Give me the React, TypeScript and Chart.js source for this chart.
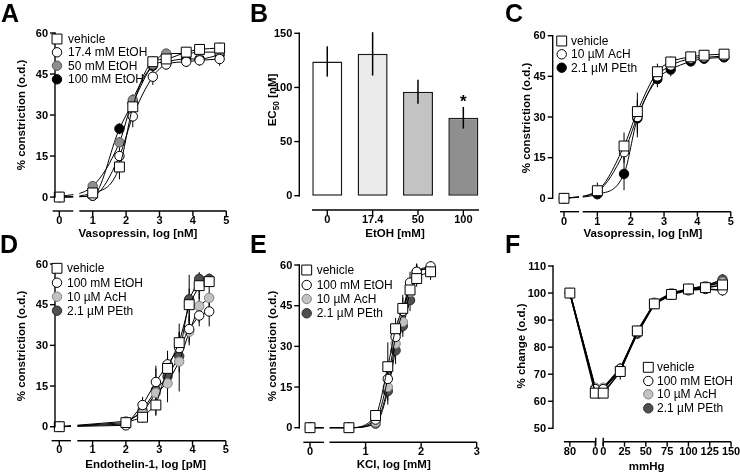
import React, { useEffect, useRef } from 'react';
import { Chart, registerables } from 'chart.js';

Chart.register(...registerables);

const W = 740;
const H = 474;
const FONT = '"Liberation Sans", Arial, Helvetica, sans-serif';
const TICK_SIZE = 11;
const TITLE_SIZE = 11.5;
const LEGEND_SIZE = 12;

/* ===================== DATA ===================== */
// Panel A – vasopressin, EtOH
const aLogDose = [0, 1, 1.8, 2.2, 2.8, 3.2, 3.8, 4.2, 4.8];
const aVehicle = [0, 1.5, 11, 33, 49.5, 50.5, 53, 54, 54.5];
const aVehicleErr = [0, 1.5, 4.5, 3, 2, 2, 1.5, 1.5, 2];
const aEtoh17 = [0, 0.5, 15, 29.5, 44, 48.5, 49.5, 50, 50.5];
const aEtoh17Err = [0, 1, 3, 4, 3, 2, 2, 2, 2.5];
const aEtoh50 = [0, 4, 20, 35.5, 48.5, 52.5, 52.5, 53, 53];
const aEtoh50Err = [0, 1.5, 2, 2, 2, 1.5, 1.5, 1.5, 1.5];
const aEtoh100 = [0, 0.5, 25, 34.5, 48, 49.5, 50.5, 50.5, 52];
const aEtoh100Err = [0, 1, 2, 3, 2, 2, 2, 2, 2];
const aXTicks = [0, 1, 2, 3, 4, 5];
const aYTicks = [0, 15, 30, 45, 60];

// Panel B – EC50
const bCategories = ['0', '17.4', '50', '100'];
const bEc50 = [124, 131, 96, 72];
const bEc50Err = [14, 20, 11, 10];
const bSignificant = [false, false, false, true];
const bYTicks = [0, 50, 100, 150];

// Panel C – vasopressin, AcH / PEth
const cLogDose = [0, 1, 1.8, 2.2, 2.8, 3.2, 3.8, 4.2, 4.8];
const cVehicle = [0, 2.8, 19.3, 32, 46.7, 50.3, 52.2, 52.8, 53.2];
const cVehicleErr = [0, 3, 5, 7, 3, 2, 1.5, 1.5, 1.5];
const cAch = [0, 2.5, 17, 30, 45, 49, 51.5, 52, 52.5];
const cAchErr = [0, 2, 4, 6, 3, 2, 1.5, 1.5, 1.5];
const cPeth = [0, 1.5, 9, 29.5, 44, 47.5, 50.5, 51.5, 52];
const cPethErr = [0, 1.5, 6, 7, 3, 2.5, 1.5, 1.5, 1.5];
const cXTicks = [0, 1, 2, 3, 4, 5];
const cYTicks = [0, 15, 30, 45, 60];

// Panel D – endothelin-1
const dLogDose = [0, 2, 2.5, 2.9, 3.25, 3.6, 3.9, 4.2, 4.5];
const dVehicle = [0, 1.5, 3.5, 8, 21.5, 31, 45, 52, 53.5];
const dVehicleErr = [0, 1, 2, 4, 5, 7, 6, 5, 2];
const dEtoh = [0, 0.5, 8, 16.5, 23, 29, 36, 41, 42.5];
const dEtohErr = [0, 1, 3, 5, 5, 6, 5, 4, 5.5];
const dAch = [0, 2, 5, 12.5, 16, 24, 35, 44.5, 47.5];
const dAchErr = [0, 1, 3, 5, 7, 11, 5, 6, 4];
const dPeth = [0, 1, 6, 13.5, 18.5, 26, 47, 54.5, 54.5];
const dPethErr = [0, 1, 4, 9, 5, 6, 9, 2, 2];
const dXTicks = [0, 1, 2, 3, 4, 5];
const dYTicks = [0, 15, 30, 45, 60];

// Panel E – KCl
const eLogDose = [0, 0.7, 1.18, 1.4, 1.54, 1.67, 1.8, 1.92, 2.17];
const eVehicle = [0, 0, 4.5, 22.5, 36.5, 44, 50.8, 55, 57.5];
const eVehicleErr = [0, 0, 2, 9, 4, 5, 3, 3, 3];
const eEtoh = [0, 0, 3, 18, 33.5, 43, 53.5, 57.5, 59.5];
const eEtohErr = [0, 0, 2, 4, 4, 5, 4, 3, 2];
const eAch = [0, 0, 2, 15, 31, 39, 50, 57, 59];
const eAchErr = [0, 0, 2, 5, 4, 4, 4, 3, 2];
const ePeth = [0, 0, 1.5, 13.5, 28.5, 37.5, 47, 57.5, 58.5];
const ePethErr = [0, 0, 1.5, 5, 5, 4, 4, 3, 2];
const eXTicks = [0, 1, 2, 3];
const eYTicks = [0, 15, 30, 45, 60];

// Panel F – pressure steps
const fPressure = [80, 0, 0, 20, 40, 60, 80, 100, 120, 140];
const fPhase = ['pre', 'pre', 'post', 'post', 'post', 'post', 'post', 'post', 'post', 'post'];
const fVehicle = [100, 63, 63, 71, 86, 96, 99.5, 101.5, 102, 103];
const fVehicleErr = [0, 1.5, 1.5, 3, 2, 1.5, 1, 1, 1.5, 3];
const fEtoh = [100, 64.5, 64.5, 72, 85.5, 96, 99.5, 101, 101.5, 101];
const fEtohErr = [0, 1, 1, 2, 2, 1, 1, 1, 1, 2];
const fAch = [100, 65, 65, 72, 85.5, 96.5, 100, 101.5, 102.5, 104];
const fAchErr = [0, 1, 1, 2, 2, 1, 1, 1, 1, 2];
const fPeth = [100, 64.5, 64.5, 71.5, 85, 96, 99.5, 101.5, 102.5, 105];
const fPethErr = [0, 1, 1, 2, 2, 1, 1, 1, 1, 2];
const fXTicksPre = [80, 0];
const fXTicksPost = [0, 25, 50, 75, 100, 125, 150];
const fYTicks = [50, 60, 70, 80, 90, 100, 110];

/* ===================== STYLES ===================== */
const MARK: any = {
  square: { pointStyle: 'rect', radius: 7, fill: '#ffffff', stroke: '#000000' },
  open: { pointStyle: 'circle', radius: 4.7, fill: '#ffffff', stroke: '#000000' },
  gray: { pointStyle: 'circle', radius: 4.7, fill: '#8e8e8e', stroke: '#555555' },
  black: { pointStyle: 'circle', radius: 4.7, fill: '#000000', stroke: '#000000' },
  light: { pointStyle: 'circle', radius: 4.7, fill: '#c2c2c2', stroke: '#808080' },
  dark: { pointStyle: 'circle', radius: 4.7, fill: '#4f4f4f', stroke: '#2a2a2a' },
};
const bFills = ['#ffffff', '#ebebeb', '#c3c3c3', '#8f8f8f'];

// F: the left ("pre") axis segment is a compressed, separate piece of the axis
const preAxis = (p: number) => -9.3 - p * 0.3725;
const fX = fPressure.map((p, i) => (fPhase[i] === 'pre' ? preAxis(p) : p));

const ser = (label: string, xs: number[], ys: number[], errs: number[], style: any) => ({ label, xs, ys, errs, style });
const numTicks = (arr: number[]) => arr.map((v) => ({ v, label: String(v) }));

/* ===================== PANEL LAYOUT ===================== */
const SPECS: any[] = [
  {
    kind: 'line', letter: 'A', letterAt: [1, 22],
    area: { left: 55, top: 33, right: 226.3, bottom: 211 },
    xRange: [-0.129, 5.0], yRange: [-5.1, 60], yAxisAt: -0.129, xAxisAt: -5.1,
    yLine: [0, 60], yTicks: aYTicks,
    xSegments: [[-0.2, 0.42], [0.6, 5.0]], xTicks: numTicks(aXTicks), xLabelDy: 9.8,
    gap: [0.42, 0.6], gapTop: 4,
    xTitle: 'Vasopressin, log [nM]', xTitleAt: [138, 234],
    yTitle: [{ text: '% constriction (o.d.)' }], yTitleAt: [22, 115],
    legend: { markerX: 57, textX: 68, rows: [39, 52.3, 65.7, 79.3] },
    curve: 'monotone', lineWidth: 1,
    series: [
      ser('vehicle', aLogDose, aVehicle, aVehicleErr, MARK.square),
      ser('17.4 mM EtOH', aLogDose, aEtoh17, aEtoh17Err, MARK.open),
      ser('50 mM EtOH', aLogDose, aEtoh50, aEtoh50Err, MARK.gray),
      ser('100 mM EtOH', aLogDose, aEtoh100, aEtoh100Err, MARK.black),
    ],
  },
  {
    kind: 'bar', letter: 'B', letterAt: [250, 21.5],
    area: { left: 304.6, top: 33.3, right: 486, bottom: 195.7 },
    yRange: [0, 150], yAxisAt: -0.617, xAxisAt: -13.2,
    yLine: [0, 150], yTicks: bYTicks,
    xSegments: [[-0.337, 3.345]], xTicks: bCategories.map((c, i) => ({ v: i, label: c })), xLabelDy: 10,
    xTitle: 'EtOH [mM]', xTitleAt: [395, 234],
    yTitle: [{ text: 'EC' }, { text: '50', sub: true }, { text: ' [nM]' }], yTitleAt: [273.3, 100],
    categories: bCategories, values: bEc50, errs: bEc50Err, significant: bSignificant, fills: bFills,
  },
  {
    kind: 'line', letter: 'C', letterAt: [505, 21.5],
    area: { left: 552.7, top: 35.7, right: 730.75, bottom: 211.7 },
    xRange: [-0.339, 5.0], yRange: [-4.94, 60], yAxisAt: -0.339, xAxisAt: -4.94,
    yLine: [0, 60], yTicks: cYTicks,
    xSegments: [[-0.12, 0.45], [0.56, 5.0]], xTicks: numTicks(cXTicks), xLabelDy: 10.3,
    gap: [0.45, 0.56], gapTop: 4,
    xTitle: 'Vasopressin, log [nM]', xTitleAt: [643, 234],
    yTitle: [{ text: '% constriction (o.d.)' }], yTitleAt: [526.7, 118],
    legend: { markerX: 561.7, textX: 571, rows: [41, 54.3, 67.7] },
    curve: 'monotone', lineWidth: 1,
    series: [
      ser('vehicle', cLogDose, cVehicle, cVehicleErr, MARK.square),
      ser('10 µM AcH', cLogDose, cAch, cAchErr, MARK.open),
      ser('2.1 µM PEth', cLogDose, cPeth, cPethErr, MARK.black),
    ],
  },
  {
    kind: 'line', letter: 'D', letterAt: [0, 252.5],
    area: { left: 55, top: 264, right: 226.5, bottom: 440.7 },
    xRange: [-0.129, 5.02], yRange: [-5.16, 60], yAxisAt: -0.129, xAxisAt: -5.16,
    yLine: [0, 60], yTicks: dYTicks,
    xSegments: [[-0.23, 0.35], [0.54, 5.0]], xTicks: numTicks(dXTicks), xLabelDy: 8.8,
    gap: [0.35, 0.54], gapTop: 4,
    xTitle: 'Endothelin-1, log [pM]', xTitleAt: [145.7, 465],
    yTitle: [{ text: '% constriction (o.d.)' }], yTitleAt: [22, 346],
    legend: { markerX: 57, textX: 67, rows: [268.3, 282.7, 296.7, 310.7] },
    curve: 'straight', lineWidth: 1,
    series: [
      ser('vehicle', dLogDose, dVehicle, dVehicleErr, MARK.square),
      ser('100 mM EtOH', dLogDose, dEtoh, dEtohErr, MARK.open),
      ser('10 µM AcH', dLogDose, dAch, dAchErr, MARK.light),
      ser('2.1 µM PEth', dLogDose, dPeth, dPethErr, MARK.dark),
    ],
  },
  {
    kind: 'line', letter: 'E', letterAt: [250, 252.5],
    area: { left: 299.3, top: 265, right: 476.7, bottom: 442.3 },
    xRange: [-0.193, 3.0], yRange: [-5.38, 60], yAxisAt: -0.193, xAxisAt: -5.38,
    yLine: [0, 60], yTicks: eYTicks,
    xSegments: [[-0.12, 0.25], [0.35, 3.0]], xTicks: numTicks(eXTicks), xLabelDy: 9.8,
    gap: [0.25, 0.35], gapTop: 4,
    xTitle: 'KCl, log [mM]', xTitleAt: [393.7, 465],
    yTitle: [{ text: '% constriction (o.d.)' }], yTitleAt: [273.3, 346],
    legend: { markerX: 306.7, textX: 316.7, rows: [270, 285, 299, 313.3] },
    curve: 'monotone', lineWidth: 1,
    series: [
      ser('vehicle', eLogDose, eVehicle, eVehicleErr, MARK.square),
      ser('100 mM EtOH', eLogDose, eEtoh, eEtohErr, MARK.open),
      ser('10 µM AcH', eLogDose, eAch, eAchErr, MARK.light),
      ser('2.1 µM PEth', eLogDose, ePeth, ePethErr, MARK.dark),
    ],
  },
  {
    kind: 'line', letter: 'F', letterAt: [505, 252.5],
    area: { left: 553, top: 266, right: 733, bottom: 441.7 },
    xRange: [-58.9, 151.1], yRange: [45.05, 110], yAxisAt: -58.9, xAxisAt: 45.05,
    yLine: [50, 110], yTicks: fYTicks,
    xSegments: [[-46.1, -8.75], [0, 150]], breakMarks: true,
    xTicks: [
      ...fXTicksPre.map((p) => ({ v: preAxis(p), label: String(p) })),
      ...numTicks(fXTicksPost),
    ],
    xLabelDy: 10.3,
    xTitle: 'mmHg', xTitleAt: [646.7, 467],
    yTitle: [{ text: '% change (o.d.)' }], yTitleAt: [521.7, 346],
    legend: { markerX: 648.3, textX: 657, rows: [367.3, 381, 394.3, 408.3] },
    curve: 'straight', lineWidth: 1.5,
    series: [
      ser('vehicle', fX, fVehicle, fVehicleErr, MARK.square),
      ser('100 mM EtOH', fX, fEtoh, fEtohErr, MARK.open),
      ser('10 µM AcH', fX, fAch, fAchErr, MARK.light),
      ser('2.1 µM PEth', fX, fPeth, fPethErr, MARK.dark),
    ],
  },
];

/* ===================== DRAWING HELPERS ===================== */
function seg(ctx: any, x1: number, y1: number, x2: number, y2: number) {
  ctx.beginPath();
  ctx.moveTo(x1, y1);
  ctx.lineTo(x2, y2);
  ctx.stroke();
}

function marker(ctx: any, st: any, x: number, y: number) {
  ctx.save();
  ctx.fillStyle = st.fill;
  ctx.strokeStyle = st.stroke;
  ctx.lineWidth = 1;
  ctx.beginPath();
  if (st.pointStyle === 'rect') {
    const s = st.radius * Math.SQRT1_2;
    ctx.rect(x - s, y - s, 2 * s, 2 * s);
  } else {
    ctx.arc(x, y, st.radius, 0, Math.PI * 2);
  }
  ctx.fill();
  ctx.stroke();
  ctx.restore();
}

function yTitle(ctx: any, parts: any[], x: number, y: number) {
  ctx.save();
  ctx.translate(x, y);
  ctx.rotate(-Math.PI / 2);
  ctx.textAlign = 'left';
  ctx.textBaseline = 'middle';
  const big = `bold ${TITLE_SIZE}px ${FONT}`;
  const small = `bold ${TITLE_SIZE * 0.72}px ${FONT}`;
  let total = 0;
  const widths = parts.map((p) => {
    ctx.font = p.sub ? small : big;
    const w = ctx.measureText(p.text).width;
    total += w;
    return w;
  });
  let cx = -total / 2;
  parts.forEach((p, i) => {
    ctx.font = p.sub ? small : big;
    ctx.fillText(p.text, cx, p.sub ? 3 : 0);
    cx += widths[i];
  });
  ctx.restore();
}

function makePlugin(spec: any) {
  return {
    id: 'prism' + spec.letter,
    beforeDatasetsDraw(chart: any) {
      if (spec.kind !== 'line') return;
      const ctx = chart.ctx;
      const ys = chart.scales.y;
      ctx.save();
      ctx.lineWidth = 1;
      ctx.strokeStyle = '#000';
      spec.series.forEach((s: any, i: number) => {
        const meta = chart.getDatasetMeta(i);
        s.ys.forEach((v: number, j: number) => {
          const e = s.errs[j];
          if (!e) return;
          const px = meta.data[j].x;
          seg(ctx, px, ys.getPixelForValue(v - e), px, ys.getPixelForValue(v + e));
        });
      });
      ctx.restore();
    },
    afterDatasetsDraw(chart: any) {
      const ctx = chart.ctx;
      const xs = chart.scales.x;
      const ys = chart.scales.y;
      ctx.save();
      if (spec.kind === 'bar') {
        const meta = chart.getDatasetMeta(0);
        ctx.strokeStyle = '#000';
        ctx.lineWidth = 1.5;
        spec.values.forEach((v: number, j: number) => {
          const px = meta.data[j].x;
          const e = spec.errs[j];
          seg(ctx, px, ys.getPixelForValue(v - e), px, ys.getPixelForValue(v + e));
          if (spec.significant[j]) {
            ctx.fillStyle = '#000';
            ctx.font = `bold 17px ${FONT}`;
            ctx.textAlign = 'center';
            ctx.textBaseline = 'middle';
            ctx.fillText('*', px, ys.getPixelForValue(v + e) - 5);
          }
        });
      } else if (spec.gap) {
        const x1 = xs.getPixelForValue(spec.gap[0]);
        const x2 = xs.getPixelForValue(spec.gap[1]);
        const y1 = ys.getPixelForValue(spec.gapTop);
        const y2 = ys.getPixelForValue(spec.xAxisAt) - 1;
        ctx.fillStyle = '#ffffff';
        ctx.fillRect(x1, y1, x2 - x1, y2 - y1);
      }
      ctx.restore();
    },
    afterDraw(chart: any) {
      const ctx = chart.ctx;
      const xs = chart.scales.x;
      const ys = chart.scales.y;
      ctx.save();
      ctx.strokeStyle = '#000';
      ctx.fillStyle = '#000';
      ctx.lineWidth = 1.4;
      // y axis
      const ax = xs.getPixelForValue(spec.yAxisAt);
      seg(ctx, ax, ys.getPixelForValue(spec.yLine[0]) + 0.7, ax, ys.getPixelForValue(spec.yLine[1]) - 0.7);
      ctx.font = `bold ${TICK_SIZE}px ${FONT}`;
      ctx.textAlign = 'right';
      ctx.textBaseline = 'middle';
      spec.yTicks.forEach((t: number) => {
        const py = ys.getPixelForValue(t);
        seg(ctx, ax - 5, py, ax, py);
        ctx.fillText(String(t), ax - 7, py + 0.5);
      });
      // x axis
      const ay = ys.getPixelForValue(spec.xAxisAt);
      spec.xSegments.forEach((s: number[]) => seg(ctx, xs.getPixelForValue(s[0]), ay, xs.getPixelForValue(s[1]), ay));
      if (spec.breakMarks) {
        [spec.xSegments[0][1], spec.xSegments[1][0]].forEach((v: number) => {
          const px = xs.getPixelForValue(v);
          seg(ctx, px, ay - 4, px, ay + 4);
        });
      }
      ctx.textAlign = 'center';
      spec.xTicks.forEach((t: any) => {
        const px = xs.getPixelForValue(t.v);
        seg(ctx, px, ay, px, ay + 5);
        ctx.fillText(t.label, px, ay + spec.xLabelDy);
      });
      // titles
      ctx.font = `bold ${TITLE_SIZE}px ${FONT}`;
      ctx.textAlign = 'center';
      ctx.textBaseline = 'middle';
      ctx.fillText(spec.xTitle, spec.xTitleAt[0], spec.xTitleAt[1]);
      yTitle(ctx, spec.yTitle, spec.yTitleAt[0], spec.yTitleAt[1]);
      // legend
      if (spec.legend) {
        ctx.font = `${LEGEND_SIZE}px ${FONT}`;
        ctx.textAlign = 'left';
        ctx.textBaseline = 'middle';
        spec.series.forEach((s: any, i: number) => {
          const ry = spec.legend.rows[i];
          marker(ctx, s.style, spec.legend.markerX, ry);
          ctx.fillStyle = '#000';
          ctx.fillText(s.label, spec.legend.textX, ry + 0.5);
        });
      }
      // panel letter
      ctx.font = `bold 25px ${FONT}`;
      ctx.textAlign = 'left';
      ctx.textBaseline = 'alphabetic';
      ctx.fillStyle = '#000';
      ctx.fillText(spec.letter, spec.letterAt[0], spec.letterAt[1]);
      ctx.restore();
    },
  };
}

function buildConfig(spec: any): any {
  const common = {
    responsive: false,
    maintainAspectRatio: false,
    animation: false,
    devicePixelRatio: 1,
    events: [],
    layout: {
      padding: {
        left: spec.area.left,
        top: spec.area.top,
        right: W - spec.area.right,
        bottom: H - spec.area.bottom,
      },
    },
    plugins: { legend: { display: false }, tooltip: { enabled: false }, title: { display: false } },
  };
  if (spec.kind === 'bar') {
    return {
      type: 'bar',
      data: {
        labels: spec.categories,
        datasets: [
          {
            data: spec.values,
            backgroundColor: spec.fills,
            borderColor: '#1a1a1a',
            borderWidth: 1.5,
            borderSkipped: false,
            barPercentage: 0.662,
            categoryPercentage: 1,
            clip: false,
          },
        ],
      },
      options: {
        ...common,
        scales: {
          x: { type: 'category', display: false },
          y: { type: 'linear', display: false, min: spec.yRange[0], max: spec.yRange[1] },
        },
      },
      plugins: [makePlugin(spec)],
    };
  }
  return {
    type: 'line',
    data: {
      datasets: spec.series.map((s: any) => ({
        label: s.label,
        data: s.xs.map((x: number, i: number) => ({ x, y: s.ys[i] })),
        borderColor: '#000',
        borderWidth: spec.lineWidth,
        pointStyle: s.style.pointStyle,
        pointRadius: s.style.radius,
        pointBackgroundColor: s.style.fill,
        pointBorderColor: s.style.stroke,
        pointBorderWidth: 1,
        cubicInterpolationMode: spec.curve === 'monotone' ? 'monotone' : 'default',
        tension: 0,
        fill: false,
        clip: false,
      })),
    },
    options: {
      ...common,
      scales: {
        x: { type: 'linear', display: false, min: spec.xRange[0], max: spec.xRange[1] },
        y: { type: 'linear', display: false, min: spec.yRange[0], max: spec.yRange[1] },
      },
    },
    plugins: [makePlugin(spec)],
  };
}

function Panel({ spec }: { spec: any }) {
  const ref = useRef<HTMLCanvasElement>(null);
  useEffect(() => {
    const chart = new Chart(ref.current as HTMLCanvasElement, buildConfig(spec));
    return () => chart.destroy();
  }, [spec]);
  return (
    <canvas
      ref={ref}
      width={W}
      height={H}
      style={{ position: 'absolute', left: 0, top: 0, width: W, height: H }}
    />
  );
}

export default function App() {
  return (
    <div style={{ position: 'absolute', left: 0, top: 0, width: W, height: H, background: '#ffffff', overflow: 'hidden' }}>
      {SPECS.map((s) => (
        <Panel key={s.letter} spec={s} />
      ))}
    </div>
  );
}
